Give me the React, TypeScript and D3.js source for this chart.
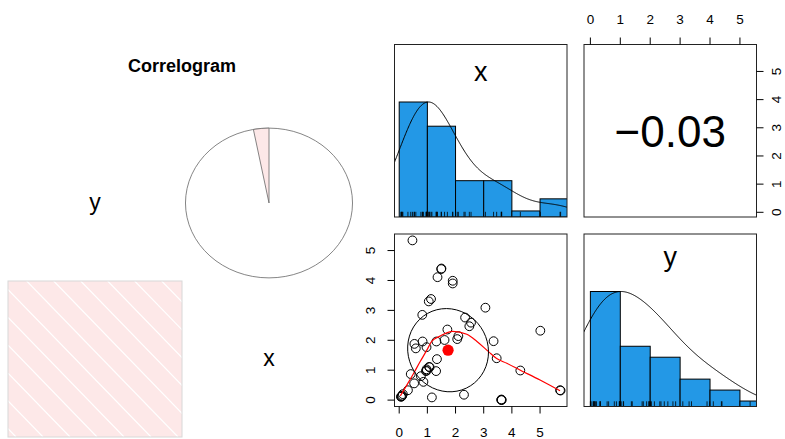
import React from 'react';
import * as d3 from 'd3';

const xVals = [0.47, 1.49, 1.36, 1.90, 1.90, 1.13, 1.05, 3.06, 0.82, 2.34, 2.55, 2.49, 1.71, 5.01, 2.10, 2.06, 1.61, 3.35, 0.54, 0.83, 1.32, 0.59, 0.97, 3.46, 1.34, 1.06, 0.97, 0.95, 1.31, 4.30, 0.41, 0.77, 0.86, 0.53, 0.31, 0.13, 0.06, 0.09, 1.16, 2.30, 3.62, 3.64, 5.71, 0.08, 0.11, 0.98, 1.50, 1.08, 3.63, 5.73];
const yVals = [5.34, 4.38, 4.11, 3.99, 3.90, 3.38, 3.30, 3.09, 2.85, 2.76, 2.59, 2.47, 2.36, 2.32, 2.14, 2.04, 2.01, 1.97, 1.88, 1.96, 1.96, 1.73, 1.77, 1.40, 1.37, 1.11, 1.03, 0.97, 0.97, 0.99, 0.87, 0.80, 0.61, 0.56, 0.33, 0.20, 0.11, 0.13, 0.09, 0.18, 0.01, 0.00, 0.33, 0.12, 0.15, 0.99, 4.40, 1.10, 0.02, 0.32];

// red smoother
const smoothX = [0.04, 0.27, 0.51, 0.74, 0.98, 1.16, 1.45, 1.90, 2.40, 2.75, 3.17, 3.46, 3.82, 4.30, 5.00, 5.71];
const smoothY = [0.14, 0.50, 0.89, 1.28, 1.67, 1.97, 2.14, 2.30, 2.20, 1.97, 1.62, 1.39, 1.23, 1.00, 0.67, 0.31];

const varNames = ['x', 'y'];
const corrgramOrder = ['y', 'x'];
const corrValue = -0.03;
const axisTicks = [0, 1, 2, 3, 4, 5];
const histBreaks = [0, 1, 2, 3, 4, 5, 6];

const FONT = '"Liberation Sans", Arial, Helvetica, sans-serif';
const HIST_COL = '#2398E6';
const SHADE_COL = '#FDE8E8';
const BW_ADJUST = 1.6;

// pairs layout
const P = 172.5;
const colX = [394.5, 584];
const rowY = [44.5, 234];

// corrgram layout
const gx0 = 8, gy0 = 125, cw = 174, ch = 156;

function padded(vals: number[]) {
  const [lo, hi] = d3.extent(vals) as [number, number];
  const r = hi - lo;
  return [lo - 0.04 * r, hi + 0.04 * r];
}

function density(vals: number[]) {
  const n = vals.length;
  const sorted = vals.slice().sort(d3.ascending);
  const sd = d3.deviation(vals) as number;
  const iqr = (d3.quantileSorted(sorted, 0.75) as number) - (d3.quantileSorted(sorted, 0.25) as number);
  const bw = BW_ADJUST * 0.9 * Math.min(sd, iqr / 1.34) * Math.pow(n, -0.2);
  const lo = sorted[0] - 3 * bw, hi = sorted[n - 1] + 3 * bw;
  const grid = d3.range(512).map(i => lo + (hi - lo) * i / 511);
  const dens = grid.map(g => d3.mean(vals, v => Math.exp(-0.5 * ((g - v) / bw) ** 2)) as number);
  const m = d3.max(dens) as number;
  return grid.map((g, i) => [g, dens[i] / m] as [number, number]);
}

const App = () => {
  const data: Record<string, number[]> = { x: xVals, y: yVals };
  const sc: Record<string, d3.ScaleLinear<number, number>> = {};
  varNames.forEach(v => { sc[v] = d3.scaleLinear().domain(padded(data[v])).range([0, P]); });
  const histY = d3.scaleLinear().domain([0, 1.5]).range([P, 0]);

  const line = d3.line();
  const curve = d3.line().curve(d3.curveMonotoneX);

  // diagonal panel: histogram + density + rug
  const diagPanel = (v: string, k: number) => {
    const x0 = colX[k], y0 = rowY[k];
    const bins = d3.bin().domain([histBreaks[0], histBreaks[histBreaks.length - 1]]).thresholds(histBreaks.slice(1, -1))(data[v]);
    const maxC = d3.max(bins, b => b.length) as number;
    const dens = density(data[v]);
    const s = sc[v];
    return (
      <g key={'d' + v}>
        <g clipPath={`url(#clip${k}${k})`}>
          {bins.map((b, i) => (
            <rect key={i} x={x0 + s(b.x0 as number)} y={y0 + histY(b.length / maxC)}
              width={s(b.x1 as number) - s(b.x0 as number)} height={P - histY(b.length / maxC)}
              fill={HIST_COL} stroke="#000" strokeWidth={1} />
          ))}
          {data[v].map((d, i) => (
            <line key={'r' + i} x1={x0 + s(d)} x2={x0 + s(d)} y1={y0 + P} y2={y0 + P - 0.03 * P} stroke="#000" strokeWidth={0.8} />
          ))}
          <path d={line(dens.map(([g, d]) => [x0 + s(g), y0 + histY(d)])) as string} fill="none" stroke="#000" strokeWidth={1} />
        </g>
        <text x={x0 + P / 2} y={k === 0 ? y0 + 36.5 : y0 + 32} textAnchor="middle" fontSize={27} fontFamily={FONT}>{v}</text>
      </g>
    );
  };

  // scatter panel (row 1 = y, col 0 = x)
  const sx = sc['x'], sy = sc['y'];
  const px0 = colX[0], py0 = rowY[1];
  const xm = d3.mean(xVals) as number, ym = d3.mean(yVals) as number;
  const xs = d3.deviation(xVals) as number, ys = d3.deviation(yVals) as number;
  const r = (d3.sum(xVals.map((v, i) => (v - xm) * (yVals[i] - ym))) / (xVals.length - 1)) / (xs * ys);
  const theta = (r !== 0 ? Math.sign(r) : 1) / Math.SQRT2;
  const s1 = Math.sqrt(1 + r), s2 = Math.sqrt(1 - r);
  const ellipse = d3.range(52).map(i => {
    const a = i * 2 * Math.PI / 51;
    const ex = Math.cos(a) * s1 * theta - Math.sin(a) * s2 * theta;
    const ey = Math.cos(a) * s1 * theta + Math.sin(a) * s2 * theta;
    return [px0 + sx(ex * xs + xm), py0 + P - sy(ey * ys + ym)] as [number, number];
  });

  // corrgram pie
  const pieArc = d3.arc()({
    innerRadius: 0, outerRadius: 1,
    startAngle: corrValue < 0 ? corrValue * 2 * Math.PI : 0,
    endAngle: corrValue < 0 ? 0 : corrValue * 2 * Math.PI,
  } as any) as string;

  const corrText = corrValue.toFixed(2).replace('-', '\u2212');
  const shadeLines = d3.range(-8, 8);

  return (
    <svg width={785} height={439} style={{ position: 'absolute', left: 0, top: 0, background: '#fff' }} fontFamily={FONT}>
      <defs>
        {[0, 1].map(i => [0, 1].map(j => (
          <clipPath key={`c${i}${j}`} id={`clip${i}${j}`}>
            <rect x={colX[j]} y={rowY[i]} width={P} height={P} />
          </clipPath>
        )))}
        <clipPath id="shadeClip">
          <rect x={gx0} y={gy0 + ch} width={cw} height={ch} />
        </clipPath>
      </defs>

      {/* ---------- corrgram ---------- */}
      <text x={gx0 + cw} y={72} textAnchor="middle" fontSize={18} fontWeight="bold">Correlogram</text>
      <text x={gx0 + cw / 2} y={gy0 + ch / 2} dy="0.3em" textAnchor="middle" fontSize={23}>{corrgramOrder[0]}</text>
      <text x={gx0 + cw * 1.5} y={gy0 + ch * 1.5} dy="0.3em" textAnchor="middle" fontSize={23}>{corrgramOrder[1]}</text>
      <g transform={`translate(${gx0 + cw * 1.5},${gy0 + ch / 2}) scale(${cw * 0.48},${ch * 0.48})`}>
        <ellipse cx={0} cy={0} rx={1} ry={1} fill="#fff" stroke="#666" strokeWidth={0.8} vectorEffect="non-scaling-stroke" />
        <path d={pieArc} fill={SHADE_COL} stroke="#666" strokeWidth={0.8} vectorEffect="non-scaling-stroke" />
      </g>
      <rect x={gx0} y={gy0 + ch} width={cw} height={ch} fill={SHADE_COL} />
      <g clipPath="url(#shadeClip)">
        {shadeLines.map(k => (
          <line key={k} x1={gx0 + 18.7 + k * 27} y1={gy0 + ch} x2={gx0 + 18.7 + k * 27 + ch * 0.97} y2={gy0 + 2 * ch}
            stroke="#fff" strokeWidth={1.2} />
        ))}
      </g>
      <rect x={gx0} y={gy0 + ch} width={cw} height={ch} fill="none" stroke="#d8d8d8" strokeWidth={1} />

      {/* ---------- pairs ---------- */}
      {varNames.map((v, k) => diagPanel(v, k))}

      {/* correlation panel */}
      <text x={colX[1] + P / 2} y={rowY[0] + 102.5} textAnchor="middle" fontSize={44}>{corrText}</text>

      {/* scatter panel */}
      <g clipPath="url(#clip10)">
        {xVals.map((v, i) => (
          <circle key={i} cx={px0 + sx(v)} cy={py0 + P - sy(yVals[i])} r={4.4} fill="none" stroke="#000" strokeWidth={1} />
        ))}
        <path d={curve(smoothX.map((a, i) => [px0 + sx(a), py0 + P - sy(smoothY[i])])) as string} fill="none" stroke="#f00" strokeWidth={1.2} />
        <path d={line(ellipse) as string} fill="none" stroke="#000" strokeWidth={1} />
        <circle cx={px0 + sx(xm)} cy={py0 + P - sy(ym)} r={5.6} fill="#f00" />
      </g>

      {/* panel borders */}
      {[0, 1].map(i => [0, 1].map(j => (
        <rect key={`b${i}${j}`} x={colX[j]} y={rowY[i]} width={P} height={P} fill="none" stroke="#222" strokeWidth={1} />
      )))}

      {/* bottom axis of scatter */}
      {axisTicks.map(t => (
        <g key={'bx' + t}>
          <line x1={px0 + sx(t)} x2={px0 + sx(t)} y1={py0 + P} y2={py0 + P + 7} stroke="#000" />
          <text x={px0 + sx(t)} y={437} textAnchor="middle" fontSize={13.5}>{t}</text>
        </g>
      ))}
      {/* left axis of scatter */}
      {axisTicks.map(t => (
        <g key={'ly' + t}>
          <line x1={px0} x2={px0 - 7} y1={py0 + P - sy(t)} y2={py0 + P - sy(t)} stroke="#000" />
          <text transform={`translate(374.5,${py0 + P - sy(t)}) rotate(-90)`} textAnchor="middle" fontSize={13.5}>{t}</text>
        </g>
      ))}
      {/* top axis of correlation panel (y variable) */}
      {axisTicks.map(t => (
        <g key={'tx' + t}>
          <line x1={colX[1] + sy(t)} x2={colX[1] + sy(t)} y1={rowY[0]} y2={rowY[0] - 7} stroke="#000" />
          <text x={colX[1] + sy(t)} y={24} textAnchor="middle" fontSize={13.5}>{t}</text>
        </g>
      ))}
      {/* right axis of correlation panel (x variable) */}
      {axisTicks.map(t => (
        <g key={'ry' + t}>
          <line x1={colX[1] + P} x2={colX[1] + P + 7} y1={rowY[0] + P - sx(t)} y2={rowY[0] + P - sx(t)} stroke="#000" />
          <text transform={`translate(780.5,${rowY[0] + P - sx(t)}) rotate(-90)`} textAnchor="middle" fontSize={13.5}>{t}</text>
        </g>
      ))}
    </svg>
  );
};

export default App;
